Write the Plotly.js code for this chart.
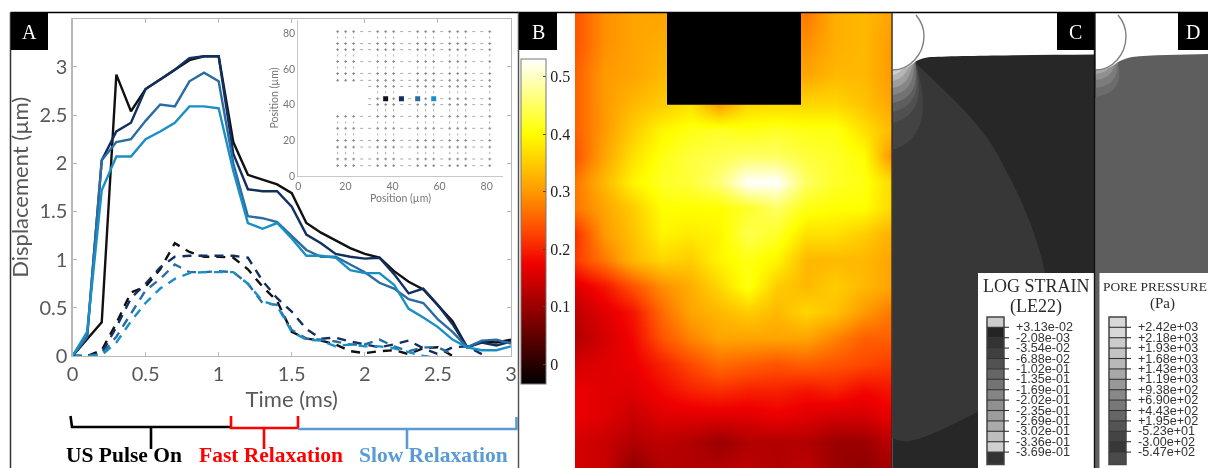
<!DOCTYPE html>
<html><head><meta charset="utf-8">
<script src="https://cdn.plot.ly/plotly-3.0.1.min.js"></script>
<style>html,body{margin:0;padding:0;background:#fff}#g{width:1208px;height:468px;filter:blur(0.4px)}</style>
</head><body><div id="g"></div>
<script>
const W=1208,H=468;
// Panel A series
const timeMs=[0,.1,.2,.3,.4,.5,.6,.7,.8,.9,1,1.1,1.2,1.3,1.4,1.5,1.6,1.7,1.8,1.9,2,2.1,2.2,2.3,2.4,2.5,2.6,2.7,2.8,2.9,3];
const solidBlack=[0,.17,.35,2.92,2.54,2.77,2.87,2.97,3.07,3.11,3.11,2.22,1.88,1.83,1.78,1.69,1.38,1.28,1.2,1.12,1.06,1.02,.88,.77,.69,.53,.36,.09,.15,.14,.17];
const solidNavy=[0,.2,2.03,2.33,2.42,2.77,2.87,2.97,3.09,3.11,3.11,2.1,1.73,1.71,1.71,1.55,1.26,1.17,1.06,1.03,1.01,1.02,.85,.65,.7,.53,.33,.09,.14,.11,.15];
const solidMid=[0,.2,2.03,2.22,2.25,2.44,2.61,2.59,2.85,2.94,2.85,2,1.45,1.43,1.39,1.25,1.1,1.03,1.03,.95,.87,.76,.7,.59,.55,.38,.25,.09,.16,.17,.13];
const solidLight=[0,.25,1.72,2.07,2.07,2.25,2.33,2.42,2.59,2.59,2.57,1.92,1.38,1.32,1.38,1.22,1.04,1.04,1.02,.89,.86,.86,.74,.49,.4,.3,.17,.09,.06,.06,.1];
const dashBlack=[0,0,.06,.34,.66,.72,.9,1.17,1.08,1.03,1.03,1.02,.9,.72,.57,.25,.18,.16,.12,.05,.03,.05,.06,.02,.08,.09,0];
const dashNavy=[0,0,.03,.3,.6,.75,.92,1.03,1.04,1.04,1.04,1.04,1.02,.78,.6,.46,.28,.18,.19,.15,.12,.09,.12,.16,.08,.02,.09,.1,.02];
const dashMid=[0,0,.02,.2,.44,.68,.8,.95,.87,.87,.88,.87,.75,.55,.53,.27,.18,.17,.15,.12,.12,.17,.1,.05,.09,.09,.02];
const dashLight=[0,0,.01,.14,.36,.55,.7,.8,.86,.87,.87,.87,.75,.57,.52,.25,.17,.16,.1,.12,.1,.1,.08,.04,0,-.02];
const seriesColors=['#111111','#12305f','#2b6ca3','#1a8fc4'];
// Inset
const gridX=[16.7,20.1,23.5,26.9,30.3,33.7,37.1,40.5,43.9,47.3,50.7,54.1,57.5,60.9,64.3,67.7,71.1,74.5,77.9,81.3];
const gridColIsDot=[1,1,1,0,0,1,1,1,0,0,1,1,1,0,1,1,1,0,0,1];
const gridY=[80.9,77.6,74.2,70.8,67.5,64.1,60.8,57.4,53.6,50.2,46.9,43.3,40,36.8,33.4,30,26.7,23.3,19.9,16.2,12.9,9.5,5.8];
const gridRowIsDot=[1,0,1,1,0,1,0,1,1,1,0,1,1,0,1,0,1,0,1,1,0,1,1];
const holeRows=[50.2,46.9,43.3,40,36.8];
const holeMaxX=28;
const probeX=[37.1,43.8,50.7,57.5];
const probeY=[43.3,43.3,43.3,43.3];
// Panel B heat map
const heatX=[575,604,633,662,690,719,748,777,806,835,864,892];
const heatY=[13,43,74,104,130,156,182,208,234,260,286,312,338,364,390,416,442,468];
const heatZ=[
[.24,.29,.31,.31,.31,.31,.31,.31,.27,.32,.33,.31],
[.24,.29,.31,.32,.32,.32,.32,.32,.29,.32,.33,.30],
[.25,.30,.31,.33,.33,.33,.33,.33,.31,.33,.33,.30],
[.25,.30,.33,.35,.37,.30,.36,.36,.36,.36,.34,.31],
[.25,.30,.35,.39,.41,.42,.41,.42,.41,.41,.37,.33],
[.24,.31,.37,.41,.43,.44,.45,.45,.43,.42,.40,.29],
[.27,.33,.39,.42,.43,.46,.53,.53,.45,.42,.41,.36],
[.27,.31,.35,.40,.40,.40,.42,.45,.41,.40,.40,.36],
[.21,.30,.34,.39,.38,.39,.44,.42,.37,.37,.35,.32],
[.22,.27,.33,.36,.35,.39,.41,.39,.33,.33,.33,.31],
[.16,.19,.24,.29,.32,.36,.41,.35,.33,.35,.33,.31],
[.13,.16,.19,.26,.31,.33,.35,.33,.36,.34,.30,.27],
[.12,.15,.18,.24,.28,.31,.31,.31,.31,.28,.25,.25],
[.15,.16,.17,.20,.23,.26,.25,.24,.25,.24,.23,.22],
[.17,.16,.16,.18,.20,.21,.20,.20,.19,.20,.18,.19],
[.17,.16,.14,.16,.16,.16,.16,.17,.16,.15,.15,.17],
[.15,.14,.12,.13,.12,.10,.12,.12,.12,.10,.10,.13],
[.15,.14,.09,.12,.12,.12,.13,.12,.13,.10,.09,.11]];
const hotScale=[[0,'#000000'],[.37,'#f00000'],[.47,'#ff4800'],[.59,'#ff9800'],[.77,'#ffff00'],[.90,'#ffff90'],[1,'#ffffff']];
const cbTicks=[0,.1,.2,.3,.4,.5];
// Panels C, D legends
const strainLabels=['+3.13e-02','-2.08e-03','-3.54e-02','-6.88e-02','-1.02e-01','-1.35e-01','-1.69e-01','-2.02e-01','-2.35e-01','-2.69e-01','-3.02e-01','-3.36e-01','-3.69e-01'];
const strainGrays=['#cccccc','#242424','#333333','#404040','#525252','#666666','#747474','#858585','#909090','#9c9c9c','#aaaaaa','#bdbdbd','#cfcfcf','#333333'];
const poreLabels=['+2.42e+03','+2.18e+03','+1.93e+03','+1.68e+03','+1.43e+03','+1.19e+03','+9.38e+02','+6.90e+02','+4.43e+02','+1.95e+02','-5.23e+01','-3.00e+02','-5.47e+02'];
const poreGrays=['#d8d8d8','#d8d8d8','#cccccc','#c4c4c4','#b8b8b8','#a8a8a8','#989898','#888888','#787878','#666666','#555555','#444444','#383838','#4a4a4a'];
const labelBoxes=[['A',11,48],['B',519,557],['C',1057,1094],['D',1178,1208]];
const bracketLabels=[['US Pulse On',124,'#000000'],['Fast Relaxation',271,'#ff0000'],['Slow Relaxation',433,'#5b9bd5']];

const fx=p=>p/W, fy=p=>1-p/H;
const traces=[];
function line(y,color,dash,name){traces.push({type:'scatter',mode:'lines',x:timeMs.slice(0,y.length),y:y,name:name,
  line:{color:color,width:2.4,dash:dash?'9px,7px':'solid'},xaxis:'x',yaxis:'y',hoverinfo:'skip',cliponaxis:true});}
[dashBlack,dashNavy,dashMid,dashLight].forEach((y,i)=>line(y,seriesColors[i],true,'dashed '+i));
[solidBlack,solidNavy,solidMid,solidLight].forEach((y,i)=>line(y,seriesColors[i],false,'solid '+i));

// inset grid
const dotX=[],dotY=[],dashX=[],dashY=[],tickX=[],tickY=[];
gridY.forEach((gy,j)=>gridX.forEach((gx,i)=>{
  if(holeRows.includes(gy)&&gx<holeMaxX) return;
  if(gridRowIsDot[j]){ if(gridColIsDot[i]){dotX.push(gx);dotY.push(gy);} else {dashX.push(gx);dashY.push(gy);} }
  else if(gridColIsDot[i]){tickX.push(gx);tickY.push(gy);}
}));
const gm=(x,y,sym,size,col)=>({type:'scatter',mode:'markers',x:x,y:y,xaxis:'x2',yaxis:'y2',hoverinfo:'skip',
  marker:{symbol:sym,size:size,color:col,line:{color:col,width:1}}});
traces.push(gm(dotX,dotY,'cross-thin',2,'#8c8c8c'));
traces.push(gm(dashX,dashY,'line-ew',2,'#a8a8a8'));
traces.push(gm(tickX,tickY,'line-ns',1.6,'#b0b0b0'));
traces.push({type:'scatter',mode:'markers',x:probeX,y:probeY,xaxis:'x2',yaxis:'y2',hoverinfo:'skip',
  marker:{symbol:'square',size:5,color:seriesColors}});

// heat map
traces.push({type:'heatmap',x:heatX,y:heatY,z:heatZ,xaxis:'x3',yaxis:'y3',zsmooth:'best',zmin:-.035,zmax:.53,colorscale:hotScale,hoverinfo:'skip',
  colorbar:{x:521/W,xanchor:'left',y:1-59.3/H,yanchor:'top',lenmode:'pixels',len:324.7,thicknessmode:'pixels',thickness:24.7,xpad:0,ypad:0,
    outlinecolor:'#777777',outlinewidth:1,tickvals:cbTicks,ticktext:cbTicks.map(String),ticks:'inside',ticklen:3,tickcolor:'#444444',
    tickfont:{family:'Liberation Serif',size:16,color:'#222222'}}});

// overlay shapes (pixel-scale helper axis x4/y4)
const shapes=[];
const rect=(x0,y0,x1,y1,col,lw,lc)=>shapes.push({type:'rect',xref:'x4',yref:'y4',x0,y0,x1,y1,fillcolor:col,line:{width:lw||0,color:lc||col},layer:'above'});
const path=(d,fill,lw,lc)=>shapes.push({type:'path',xref:'x4',yref:'y4',path:d,fillcolor:fill||'rgba(0,0,0,0)',line:{width:lw||0,color:lc||'rgba(0,0,0,0)'},layer:'above'});
const seg=(d,col,w)=>shapes.push({type:'path',xref:'x4',yref:'y4',path:d,line:{width:w,color:col},layer:'above'});

rect(667,13,801,104.7,'#000000');                // probe block on panel B
// panel C
rect(892.5,13,1094,468,'#272727');
path('M892.5 62 L915 62 C945 92 985 125 1003 165 C1025 205 1042 245 1050 300 C1056 360 1010 400 978 412 C960 420 930 438 907 441.5 C902 441.5 897 440 892.5 438 Z','#373737');
const cRight=[928,922,919,917,913,909,905,901],cBottom=[150,123,112,103,95,88,81,75];
const cBand=['#434343','#505050','#5e5e5e','#727272','#868686','#9e9e9e','#b6b6b6','#d0d0d0'];
cBand.forEach((c,i)=>{const r=cRight[i],b=cBottom[i];
  path(`M892.5 60 L915 60 C${r} ${62+.45*(b-62)} ${r} ${b-.12*(b-62)} 892.5 ${b} Z`,c);});
path('M892.5 13 H1094 V54.5 C1030 55 960 55.5 930 57 C922 58 918 60 915 62 C908 68 900 70 892.5 70 Z','#ffffff');
path('M916 15 C921 21 924 28 924 36 C924 54 910 70 892.5 70','rgba(0,0,0,0)',1.4,'#808080');
// panel D
rect(1095.5,13,1208,468,'#5e5e5e');
const dRight=[1121,1117,1112,1108],dBottom=[97,88,80,74];
const dBand=['#6c6c6c','#7c7c7c','#909090','#a8a8a8'];
dBand.forEach((c,i)=>{const r=dRight[i],b=dBottom[i];
  path(`M1095.5 60 L1118 60 C${r} ${62+.45*(b-62)} ${r} ${b-.12*(b-62)} 1095.5 ${b} Z`,c);});
path('M1095.5 13 H1208 V54 C1180 54.5 1150 55 1132 57 C1126 58 1122 60 1118 62 C1111 68 1103 70 1095.5 70 Z','#ffffff');
path('M1118 15 C1123 21 1126 28 1126 36 C1126 54 1113 70 1095.5 70','rgba(0,0,0,0)',1.4,'#808080');
// legend boxes
rect(978,273,1094,468,'#ffffff');
rect(1099.5,273,1208,468,'#ffffff');
const legendTop=327.3,legendStep=10.4;
function legendBar(x0,x1,grays){
  grays.forEach((c,i)=>{const y0=i?legendTop+(i-1)*legendStep:317,y1=i<grays.length-1?legendTop+i*legendStep:464.5;rect(x0,y0,x1,y1,c);});
  rect(x0,317,x1,464.5,'rgba(0,0,0,0)',1.5,'#444444');
  grays.slice(0,-1).forEach((c,i)=>{const y=legendTop+i*legendStep;seg(`M${x0} ${y} H${x1+5}`,'#333333',1.1);});
}
legendBar(987,1004,strainGrays);
legendBar(1109,1126,poreGrays);
// frame lines
seg('M10.5 12.5 H1208','#000000',1.5);
seg('M10.5 12.5 V468','#333333',1.5);
seg('M518.5 12.5 V468','#555555',1.5);
seg('M892 13 V468','#222222',1.2);
seg('M1094.7 13 V468','#111111',1.8);
// label boxes
labelBoxes.forEach(b=>rect(b[1],13,b[2],50,'#000000'));
// brackets
seg('M70.5 416 L72 427 H230','#000000',2.6);
seg('M151 427 V449','#000000',2.6);
seg('M231 416 V428 H298 V416','#ff0000',2.6);
seg('M264 428 V449','#ff0000',2.6);
seg('M298 429 H516.5 V417','#5b9bd5',2.6);
seg('M407 429 V449','#5b9bd5',2.6);

const ann=[];
const txt=(text,x,y,font,anchor)=>ann.push({text,x,y,xref:'x4',yref:'y4',showarrow:false,font,xanchor:anchor||'center',yanchor:'middle',borderpad:0});
labelBoxes.forEach(b=>txt(b[0],(b[1]+Math.min(b[2],1208))/2,31.5,{family:'Liberation Serif',size:20,color:'#ffffff'}));
bracketLabels.forEach(b=>txt('<b>'+b[0]+'</b>',b[1],454.5,{family:'Liberation Serif',size:21.5,color:b[2]}));
txt('LOG STRAIN',1036,286,{family:'Liberation Serif',size:18,color:'#2a2a2a'});
txt('(LE22)',1036,306,{family:'Liberation Serif',size:18,color:'#2a2a2a'});
txt('PORE PRESSURE',1102,286,{family:'Liberation Serif',size:13.4,color:'#2a2a2a'},'left');
txt('(Pa)',1162,303,{family:'Liberation Serif',size:15,color:'#2a2a2a'});
const legFont={family:'Liberation Sans',size:12.6,color:'#333333'};
strainLabels.forEach((t,i)=>txt(t,1015,legendTop+i*legendStep,legFont,'left'));
poreLabels.forEach((t,i)=>txt(t,1137,legendTop+i*legendStep,legFont,'left'));

const gray='#595959',axc='#b8b8b8';
const layout={width:W,height:H,autosize:false,margin:{l:0,r:0,t:0,b:0,pad:0,autoexpand:false},paper_bgcolor:'#ffffff',plot_bgcolor:'rgba(0,0,0,0)',showlegend:false,
  font:{family:'Lato',color:gray},
  xaxis:{domain:[fx(72.5),fx(511)],range:[0,3],tick0:0,dtick:.5,ticks:'inside',ticklen:4,tickcolor:axc,linecolor:axc,linewidth:1.2,mirror:'ticks',showgrid:false,zeroline:false,
    tickfont:{family:'Lato',size:20,color:gray},tickvals:[0,.5,1,1.5,2,2.5,3],ticktext:['0','0.5','1','1.5','2','2.5','3'],title:{text:'Time (ms)',font:{family:'Lato',size:22,color:gray},standoff:4},anchor:'y'},
  yaxis:{domain:[fy(356),fy(18.7)],range:[0,3.5],tickvals:[0,.5,1,1.5,2,2.5,3],ticktext:['0','0.5','1','1.5','2','2.5','3'],ticks:'inside',ticklen:4,tickcolor:axc,linecolor:axc,linewidth:1.2,mirror:'ticks',showgrid:false,zeroline:false,
    tickfont:{family:'Lato',size:20,color:gray},title:{text:'Displacement (µm)',font:{family:'Lato',size:22,color:gray},standoff:4},anchor:'x'},
  xaxis2:{domain:[fx(298.3),fx(502.7)],range:[0,86.8],tickvals:[0,20,40,60,80],ticks:'',linecolor:'#c8c8c8',linewidth:1,showgrid:false,zeroline:false,
    tickfont:{family:'Lato',size:10.5,color:'#777777'},title:{text:'Position (µm)',font:{family:'Lato',size:10.5,color:'#777777'},standoff:2},anchor:'y2'},
  yaxis2:{domain:[fy(176),fy(20)],range:[0,87.4],tickvals:[0,20,40,60,80],ticks:'',linecolor:'#c8c8c8',linewidth:1,showgrid:false,zeroline:false,
    tickfont:{family:'Lato',size:10.5,color:'#777777'},title:{text:'Position (µm)',font:{family:'Lato',size:10.5,color:'#777777'},standoff:2},anchor:'x2'},
  xaxis3:{domain:[fx(575),fx(892)],range:[575,892],visible:false,anchor:'y3'},
  yaxis3:{domain:[0,fy(13)],range:[468,13],visible:false,anchor:'x3'},
  xaxis4:{domain:[0,1],range:[0,W],visible:false,anchor:'y4',fixedrange:true},
  yaxis4:{domain:[0,1],range:[H,0],visible:false,anchor:'x4',fixedrange:true},
  shapes:shapes,annotations:ann};
// a transparent trace keeps the helper axis alive
traces.push({type:'scatter',mode:'markers',x:[0],y:[0],xaxis:'x4',yaxis:'y4',marker:{opacity:0},hoverinfo:'skip'});
Plotly.newPlot('g',traces,layout,{staticPlot:true,displayModeBar:false});
</script></body></html>
